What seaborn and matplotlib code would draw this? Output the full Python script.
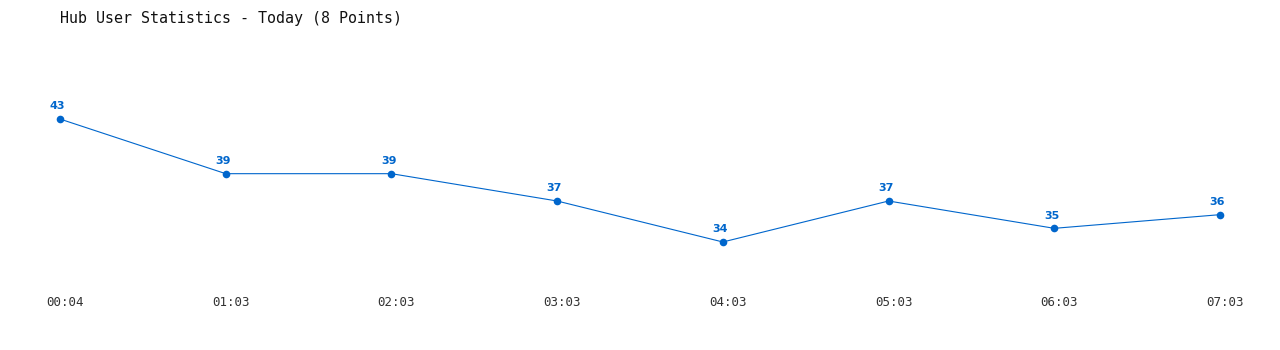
import matplotlib
matplotlib.use("Agg")
import matplotlib.pyplot as plt
import matplotlib.transforms as mtransforms
import seaborn as sns
import pandas as pd

times = ["00:04", "01:03", "02:03", "03:03", "04:03", "05:03", "06:03", "07:03"]
users = [43, 39, 39, 37, 34, 37, 35, 36]
title = "Hub User Statistics - Today (8 Points)"

sns.set_theme(style="white")
plt.rcParams['font.family'] = ['DejaVu Sans Mono', 'DejaVu Sans']

df = pd.DataFrame({"idx": range(len(times)), "users": users})

fig = plt.figure(figsize=(12.8, 3.5), dpi=100)
ax = fig.add_axes([60/1280, 1 - 270/350, 1160/1280, 210/350])
color = "#0066CC"
sns.lineplot(data=df, x="idx", y="users", ax=ax, color=color, linewidth=0.8,
             marker="o", markersize=5.5, markeredgewidth=0, markeredgecolor=color)
for ln in ax.lines:
    ln.set_clip_on(False)
for i, v in enumerate(users):
    ax.annotate(str(v), (i, v), xytext=(-2, 5.5), textcoords="offset points",
                ha="center", va="bottom", color=color, fontsize=8,
                fontweight="bold", family="DejaVu Sans")

ax.set_xlim(0, len(times) - 1)
ax.set_ylim(31.95, 47.32)
ax.set_xticks(range(len(times)))
ax.set_xticklabels(times, fontsize=9, color="#333333")
ax.tick_params(axis="x", length=0, pad=18.5)
offset = mtransforms.ScaledTranslation(5/100, 0, fig.dpi_scale_trans)
for lab in ax.get_xticklabels():
    lab.set_transform(lab.get_transform() + offset)
ax.set_yticks([])
ax.set_xlabel("")
ax.set_ylabel("")
for s in ax.spines.values():
    s.set_visible(False)
ax.set_facecolor("white")
fig.patch.set_facecolor("white")
fig.text(60/1280, 1 - 18/350, title, ha="left", va="center", fontsize=10.8,
         color="#111111", fontweight="medium")
fig.savefig("out.png", dpi=100, facecolor="white")
